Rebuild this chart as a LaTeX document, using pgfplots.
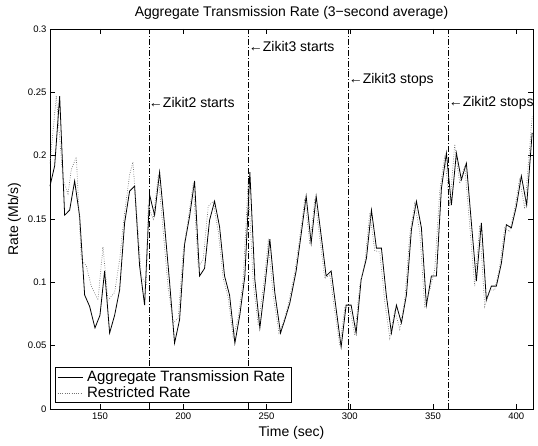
\documentclass[border=0pt]{standalone}
\usepackage{fontspec}
\setmainfont{Liberation Sans}
\usepackage{pgfplots}
\usepackage{pgfplotstable}
\pgfplotsset{compat=1.18}

% aggregate transmission rate (solid)
\pgfplotstableread{
t rate
120.0 0.176
122.8 0.192
125.8 0.247
128.8 0.153
131.8 0.157
134.8 0.180
137.8 0.152
140.8 0.090
143.8 0.081
147.0 0.064
150.0 0.074
152.8 0.109
155.8 0.060
158.8 0.074
161.8 0.094
164.8 0.147
167.8 0.172
170.8 0.176
173.8 0.113
176.8 0.082
179.8 0.169
182.8 0.153
185.8 0.187
188.8 0.145
191.8 0.100
194.8 0.052
197.8 0.0705
200.8 0.130
203.8 0.152
206.8 0.180
209.8 0.105
212.8 0.111
215.8 0.149
218.8 0.164
221.8 0.144
224.8 0.105
227.8 0.090
231.0 0.052
234.0 0.0745
237.0 0.105
240.0 0.187
243.0 0.102
246.0 0.064
249.0 0.097
252.0 0.134
255.0 0.0916
258.4 0.060
261.0 0.0705
264.0 0.0837
267.8 0.109
270.8 0.138
273.8 0.168
276.8 0.131
279.8 0.168
282.8 0.137
285.8 0.105
288.8 0.109
291.8 0.079
294.8 0.049
297.8 0.082
300.8 0.082
303.8 0.060
306.8 0.102
310.0 0.119
313.0 0.157
316.0 0.127
319.0 0.127
322.0 0.089
325.0 0.060
328.0 0.082
331.0 0.068
334.0 0.090
337.0 0.1416
340.0 0.164
343.0 0.143
346.0 0.082
349.0 0.105
352.0 0.105
355.0 0.174
358.0 0.202
361.0 0.161
364.0 0.202
367.0 0.181
370.0 0.194
373.0 0.147
376.0 0.101
379.0 0.147
382.0 0.086
385.0 0.097
388.0 0.097
391.0 0.115
394.0 0.1455
397.0 0.143
400.0 0.160
403.0 0.184
406.2 0.161
409.5 0.218
}\aggtable

% restricted rate (dotted)
\pgfplotstableread{
t rate
120.0 0.194
123.8 0.247
127.8 0.181
130.8 0.170
132.8 0.189
135.8 0.199
138.8 0.118
141.8 0.113
144.8 0.097
148.8 0.086
151.8 0.128
154.8 0.086
158.8 0.092
161.8 0.118
164.8 0.155
167.8 0.185
169.8 0.195
174.8 0.105
177.8 0.098
179.0 0.160
182.0 0.150
185.0 0.185
188.0 0.140
191.0 0.095
194.0 0.068
197.0 0.072
200.0 0.125
203.0 0.150
206.0 0.178
209.0 0.112
212.0 0.118
215.0 0.160
218.0 0.164
221.0 0.140
224.0 0.103
227.0 0.088
230.0 0.056
233.0 0.072
236.0 0.103
239.0 0.180
242.0 0.100
245.0 0.066
248.0 0.096
251.0 0.132
254.0 0.090
257.5 0.060
260.0 0.068
263.0 0.082
267.0 0.108
270.0 0.136
273.0 0.166
276.0 0.130
279.0 0.166
282.0 0.135
285.0 0.103
288.0 0.106
291.0 0.077
294.0 0.050
297.0 0.080
300.0 0.080
303.0 0.058
306.0 0.098
309.0 0.115
312.0 0.155
315.0 0.125
318.0 0.124
321.0 0.085
324.0 0.056
327.0 0.078
330.0 0.063
333.0 0.086
336.0 0.138
339.0 0.162
342.0 0.140
345.0 0.080
348.0 0.094
351.0 0.110
354.0 0.172
357.0 0.200
360.0 0.160
363.0 0.209
366.0 0.178
369.0 0.192
372.0 0.145
375.0 0.097
378.0 0.145
381.0 0.081
384.0 0.094
387.0 0.094
390.0 0.112
393.0 0.143
396.0 0.140
399.0 0.158
402.0 0.182
405.0 0.158
409.5 0.231
}\restrtable

\begin{document}
\begin{tikzpicture}
\begin{axis}[
    scale only axis,
    width=483pt, height=380pt,
    xmin=120, xmax=410,
    ymin=0, ymax=0.3,
    xtick={150,200,250,300,350,400},
    ytick={0,0.05,0.1,0.15,0.2,0.25,0.3},
    yticklabel style={/pgf/number format/fixed, /pgf/number format/precision=2},
    /pgf/number format/assume math mode=true,
    tick align=inside,
    major tick length=5pt,
    axis line style={line width=0.6pt},
    tick style={line width=0.5pt, black},
    tick label style={font=\fontsize{9.5}{11}\selectfont},
    label style={font=\fontsize{14}{16}\selectfont},
    title style={font=\fontsize{14}{16}\selectfont},
    title={Aggregate Transmission Rate (3−second average)},
    xlabel={Time (sec)},
    ylabel={Rate (Mb/s)},
    legend style={at={(rel axis cs:0.0104,0.0158)}, anchor=south west,
        font=\fontsize{15}{16}\selectfont, draw=black, line width=0.6pt,
        inner xsep=2pt, inner ysep=1.5pt, row sep=-0.5pt,
        nodes={inner xsep=4pt, inner ysep=2pt}},
    legend cell align=left,
    legend image code/.code={\draw[#1] (4pt,0pt) -- (29pt,0pt);},
    clip=false,
]
\addplot[black, line width=0.8pt] table[x=t, y=rate] {\aggtable};
\addplot[black!55, line width=0.7pt, dash pattern=on 0.7pt off 1.6pt] table[x=t, y=rate] {\restrtable};
\legend{Aggregate Transmission Rate, Restricted Rate}

\addplot[black, line width=0.5pt, dash pattern=on 6pt off 2pt on 0.7pt off 2pt, forget plot] coordinates {(179.3,0) (179.3,0.3)};
\addplot[black, line width=0.5pt, dash pattern=on 6pt off 2pt on 0.7pt off 2pt, forget plot] coordinates {(239.3,0) (239.3,0.3)};
\addplot[black, line width=0.5pt, dash pattern=on 6pt off 2pt on 0.7pt off 2pt, forget plot] coordinates {(299.3,0) (299.3,0.3)};
\addplot[black, line width=0.5pt, dash pattern=on 6pt off 2pt on 0.7pt off 2pt, forget plot] coordinates {(359.3,0) (359.3,0.3)};

\node[anchor=west, inner sep=0pt, font=\fontsize{14}{16}\selectfont] at (axis cs:179.3,0.242) {←Zikit2 starts};
\node[anchor=west, inner sep=0pt, font=\fontsize{14}{16}\selectfont] at (axis cs:239.3,0.286) {←Zikit3 starts};
\node[anchor=west, inner sep=0pt, font=\fontsize{14}{16}\selectfont] at (axis cs:299.3,0.260) {←Zikit3 stops};
\node[anchor=west, inner sep=0pt, font=\fontsize{14}{16}\selectfont] at (axis cs:359.3,0.242) {←Zikit2 stops};
\end{axis}
\pgfresetboundingbox
\path (-50pt,-36pt) rectangle (488pt,409pt);
\end{tikzpicture}
\end{document}
